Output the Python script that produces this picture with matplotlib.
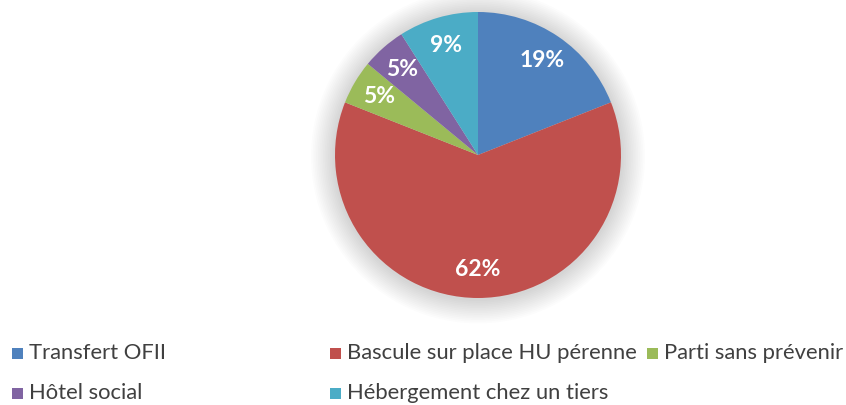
import matplotlib.pyplot as plt
from matplotlib.patches import Circle, Rectangle

labels = ['Transfert OFII', 'Bascule sur place HU pérenne', 'Parti sans prévenir',
          'Hôtel social', 'Hébergement chez un tiers']
values = [19, 62, 5, 5, 9]
colors = ['#4F81BD', '#C0504D', '#9BBB59', '#8064A2', '#4BACC6']

plt.rcParams['font.family'] = ['Lato', 'DejaVu Sans']

fig = plt.figure(figsize=(8.46, 4.05), dpi=100)
W, H = 846, 405
cx, cy, r = 478, 155, 143
ax = fig.add_axes([(cx - r) / W, 1 - (cy + r) / H, 2 * r / W, 2 * r / H])

# soft glow around the pie
for k in range(14):
    ax.add_patch(Circle((0, -0.01), 1.0 + 0.012 * (k + 1), color='#000000',
                        alpha=0.012, lw=0, zorder=0, clip_on=False))

wedges, texts = ax.pie(values, colors=colors, startangle=90, counterclock=False,
                       labels=[f'{v}%' for v in values], labeldistance=0.8,
                       wedgeprops=dict(linewidth=0, clip_on=False),
                       textprops=dict(color='white', fontsize=16.5, fontweight='bold'))
for t in texts:
    t.set_ha('center')
    t.set_va('center')
ax.set_xlim(-1, 1)
ax.set_ylim(-1, 1)
ax.set_aspect('equal')
ax.axis('off')

# legend laid out like the original (3 columns, 2 rows)
col_x = [12, 330, 647]
row_y = [353, 393]
for i, (lab, col) in enumerate(zip(labels, colors)):
    x = col_x[i % 3]
    y = row_y[i // 3]
    fig.patches.append(Rectangle((x / W, 1 - (y + 6) / H), 11 / W, 11 / H,
                                 transform=fig.transFigure, color=col, lw=0))
    fig.text((x + 17) / W, 1 - y / H, lab, fontsize=15.8, color='#404040',
             va='center', ha='left')

fig.savefig('out.png', dpi=100)
